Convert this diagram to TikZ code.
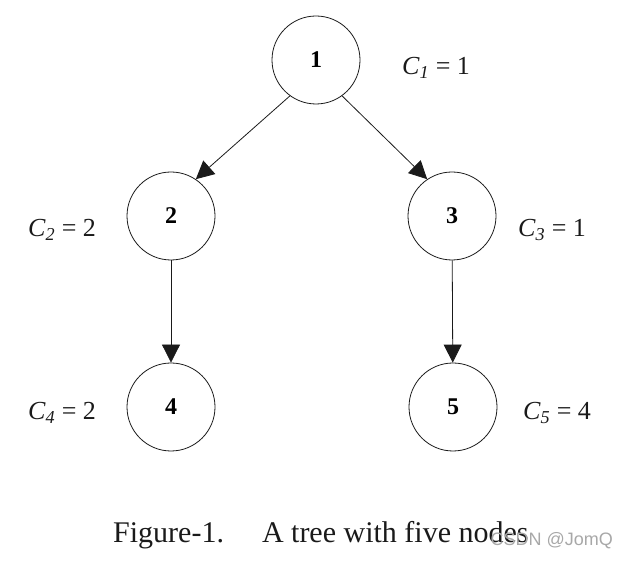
\documentclass[tikz,border=0pt]{standalone}
\usepackage{fontspec}
\setmainfont{Liberation Serif}
\newfontfamily\markfont{Liberation Sans}
\usetikzlibrary{arrows.meta}
\definecolor{Ink}{HTML}{1A1A1A}
\definecolor{Mark}{HTML}{A8A8A8}
\newcommand{\Cost}[2]{\textit{C}\textsubscript{\textit{#1}} = #2}
\tikzset{
  tnode/.style={circle,draw=Ink,line width=.8pt,minimum size=88pt,inner sep=0pt,
    font=\fontsize{24}{24}\selectfont\bfseries},
  costlabel/.style={font=\fontsize{26}{26}\selectfont,text=Ink},
  arr/.style={draw=Ink,line width=.8pt,-{Triangle[length=18pt,width=18pt]}}
}

\begin{document}
\begin{tikzpicture}[x=1pt,y=1pt]
  \useasboundingbox (0,0) rectangle (629,561);
  % tree nodes
  \node[tnode] (n1) at (316,501) {1};
  \node[tnode] (n2) at (171,345) {2};
  \node[tnode] (n3) at (452,345) {3};
  \node[tnode] (n4) at (171,154) {4};
  \node[tnode] (n5) at (453,154) {5};
  % edges
  \draw[arr] (n1.234) -- (n2.56);
  \draw[arr] (n1.-54) -- (n3.124);
  \draw[arr] (n2) -- (n4);
  \draw[arr] (n3) -- (n5);
  % costs
  \node[costlabel] (c1) at (436,493) {\Cost{1}{1}};
  \node[costlabel] (c2) at (62,331) {\Cost{2}{2}};
  \node[costlabel] (c3) at (552,331) {\Cost{3}{1}};
  \node[costlabel] (c4) at (62,148) {\Cost{4}{2}};
  \node[costlabel] (c5) at (557,148) {\Cost{5}{4}};
  % caption
  \node[anchor=base west,inner sep=0pt,font=\fontsize{30}{30}\selectfont,text=Ink] (cap) at (113,18)
    {Figure-1.\hspace{38pt}A tree with five nodes};
  \node[anchor=base east,inner sep=0pt,font=\markfont\fontsize{18}{18}\selectfont,text=Mark] (wm) at (613,15)
    {CSDN @JomQ};
\end{tikzpicture}
\end{document}
